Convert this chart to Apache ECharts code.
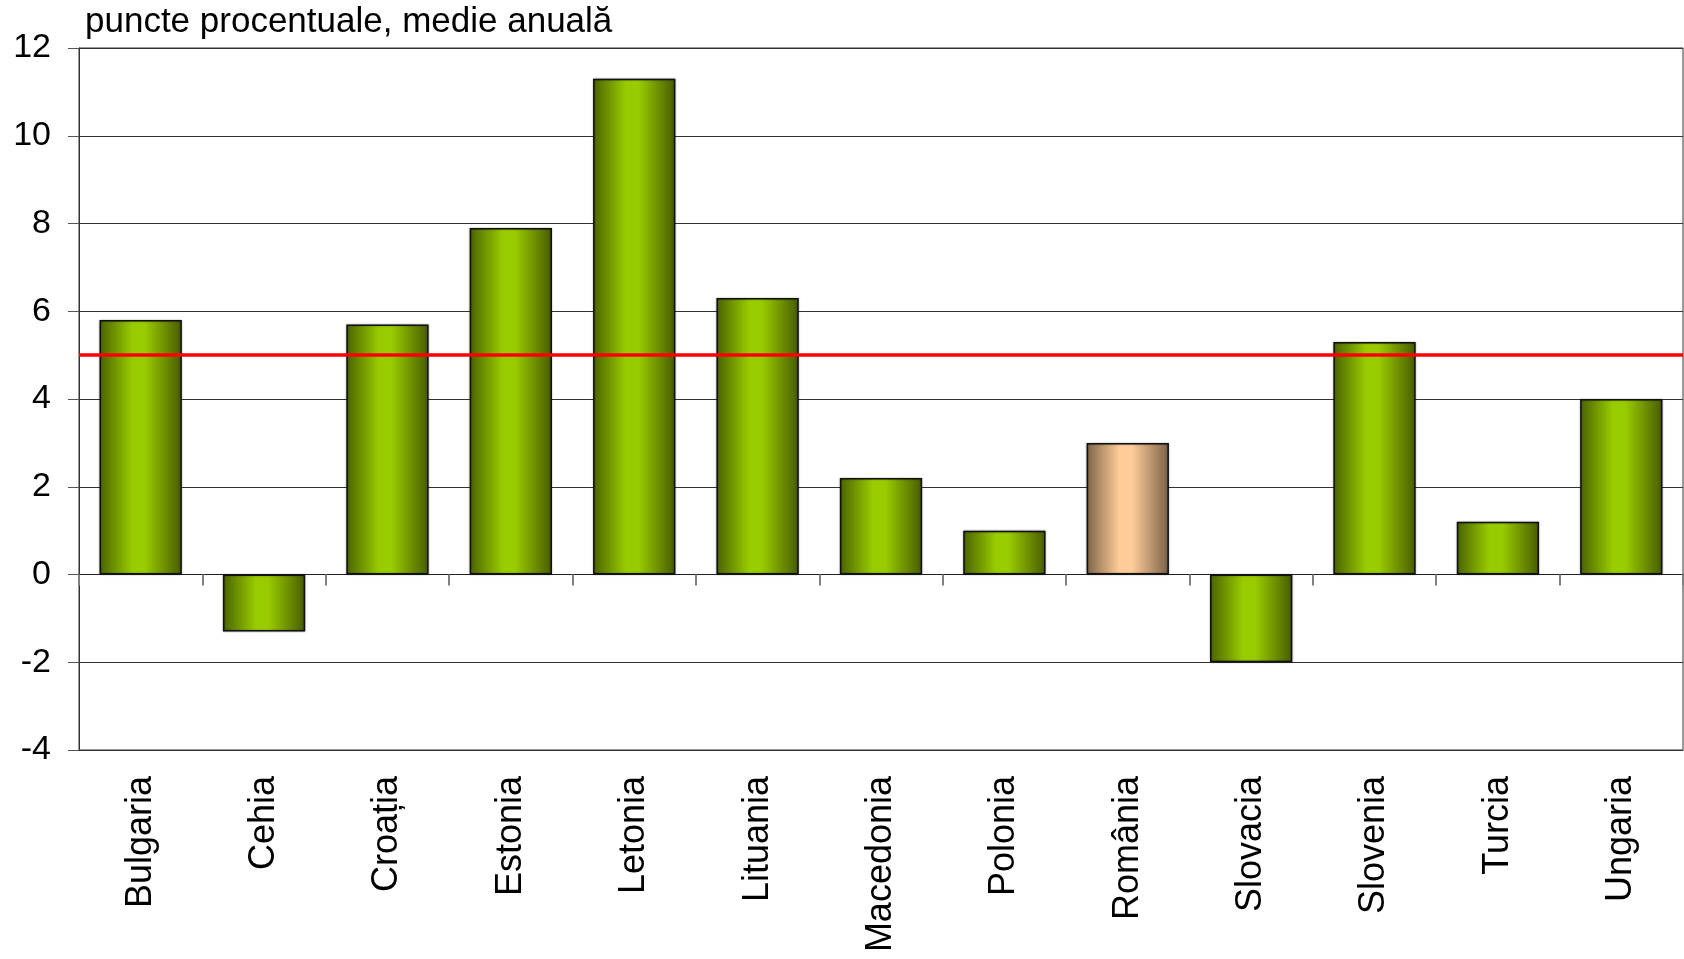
<!DOCTYPE html>
<html>
<head>
<meta charset="utf-8">
<script src="https://cdn.jsdelivr.net/npm/echarts@6/dist/echarts.min.js"></script>
<style>
  html, body { margin: 0; padding: 0; background: #ffffff; }
  #chart { width: 1684px; height: 959px; }
</style>
</head>
<body>
<div id="chart"></div>
<script>
// Countries along the category axis
const countries = ['Bulgaria', 'Cehia', 'Croația', 'Estonia', 'Letonia', 'Lituania',
  'Macedonia', 'Polonia', 'România', 'Slovacia', 'Slovenia', 'Turcia', 'Ungaria'];
// Percentage points, annual average
const values = [5.8, -1.3, 5.7, 7.9, 11.3, 6.3, 2.2, 1.0, 3.0, -2.0, 5.3, 1.2, 4.0];
// Reference level drawn as a horizontal line
const referenceLevel = 5;
// Value axis range and step
const yMin = -4, yMax = 12, yStep = 2;
const unitLabel = 'puncte procentuale, medie anuală';
const highlighted = 'România';

const FONT = "'Liberation Sans', Arial, sans-serif";

function barGradient(edgeL, mid, edgeR) {
  return new echarts.graphic.LinearGradient(0, 0, 1, 0, [
    { offset: 0, color: edgeL },
    { offset: 0.4, color: mid },
    { offset: 0.55, color: mid },
    { offset: 1, color: edgeR }
  ]);
}
const greenFill = barGradient('#4a6300', '#99cc00', '#485c00');
const tanFill = barGradient('#7d6549', '#ffcc99', '#7a6248');

const seriesData = countries.map((c, i) => ({
  value: values[i],
  itemStyle: { color: c === highlighted ? tanFill : greenFill }
}));

const chart = echarts.init(document.getElementById('chart'), null, { renderer: 'canvas' });
chart.setOption({
  animation: false,
  backgroundColor: '#ffffff',
  graphic: [{
    type: 'text',
    left: 85,
    top: 5,
    style: { text: unitLabel, font: '35px ' + FONT, fill: '#000000' }
  }],
  grid: {
    left: 79, right: 1, top: 48, bottom: 209,
    show: true, borderColor: '#333333', borderWidth: 1, backgroundColor: 'transparent'
  },
  xAxis: [{
    type: 'category',
    data: countries,
    position: 'bottom',
    boundaryGap: true,
    axisLine: { onZero: false, lineStyle: { color: '#333333', width: 1 } },
    axisTick: { show: false },
    axisLabel: {
      rotate: 90, margin: 26, color: '#000000',
      fontFamily: FONT, fontSize: 36
    }
  }, {
    type: 'category',
    data: countries,
    position: 'bottom',
    boundaryGap: true,
    axisLine: { onZero: true, onZeroAxisIndex: 0, lineStyle: { color: '#222222', width: 1 } },
    axisTick: { show: true, inside: false, length: 11, lineStyle: { color: '#808080', width: 2 } },
    axisLabel: { show: false }
  }],
  yAxis: {
    type: 'value',
    min: yMin, max: yMax, interval: yStep,
    axisLine: { show: true, lineStyle: { color: '#333333', width: 1 } },
    axisTick: { show: true, length: 11, lineStyle: { color: '#555555', width: 1 } },
    splitLine: { show: true, lineStyle: { color: '#333333', width: 1 } },
    axisLabel: { margin: 28, color: '#000000', fontFamily: FONT, fontSize: 34 }
  },
  series: [{
    type: 'bar',
    xAxisIndex: 0,
    data: seriesData,
    barCategoryGap: '33.3%',
    itemStyle: {
      borderColor: '#111111', borderWidth: 1.5,
      shadowColor: 'rgba(0,0,0,0.35)', shadowBlur: 2
    },
    markLine: {
      silent: true,
      symbol: 'none',
      label: { show: false },
      lineStyle: { color: '#ff0000', width: 3.5, type: 'solid' },
      data: [{ yAxis: referenceLevel }]
    }
  }]
});
</script>
</body>
</html>
